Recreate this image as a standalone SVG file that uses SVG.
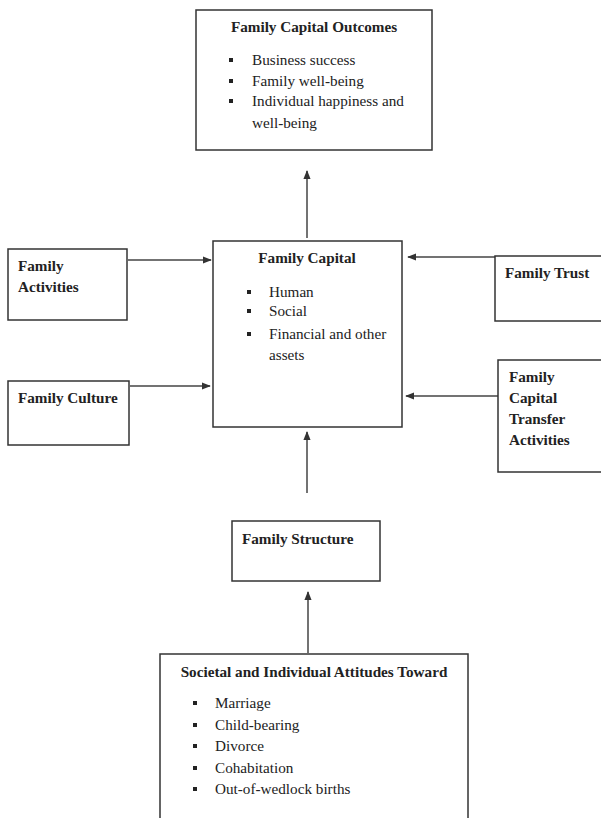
<svg xmlns="http://www.w3.org/2000/svg" width="601" height="818" viewBox="0 0 601 818">
<style>
.box{fill:#fff;stroke:#333;stroke-width:1.5}
.t{font-family:"Liberation Serif","Times New Roman",serif;font-size:15.2px;fill:#222}
.b{font-weight:bold}
.bul{fill:#222}
.c{stroke:#444;stroke-width:1.5;fill:none;marker-end:url(#ah)}
</style>
<defs>
<marker id="ah" viewBox="0 0 10 10" refX="9" refY="5" markerWidth="6" markerHeight="6" markerUnits="strokeWidth" orient="auto">
<path d="M0,1 L10,5 L0,9 z" fill="#333"/>
</marker>
</defs>
<rect width="601" height="818" fill="#fff"/>
<g id="connectors">
<line class="c" x1="307" y1="238" x2="307" y2="171"/>
<line class="c" x1="128" y1="260" x2="211" y2="260"/>
<line class="c" x1="130" y1="386" x2="210" y2="386"/>
<line class="c" x1="495" y1="257" x2="408" y2="257"/>
<line class="c" x1="498" y1="396" x2="406" y2="396"/>
<line class="c" x1="307" y1="493" x2="307" y2="432"/>
<line class="c" x1="308" y1="653" x2="308" y2="592"/>
</g>
<g id="outcomes">
<rect class="box" x="196" y="10" width="236" height="140"/>
<text class="t b" x="314" y="32" text-anchor="middle">Family Capital Outcomes</text>
<rect class="bul" x="229" y="58" width="4" height="4"/>
<rect class="bul" x="229" y="79" width="4" height="4"/>
<rect class="bul" x="229" y="99" width="4" height="4"/>
<text class="t" x="252" y="65">Business success</text>
<text class="t" x="252" y="86">Family well-being</text>
<text class="t" x="252" y="106">Individual happiness and</text>
<text class="t" x="252" y="128">well-being</text>
</g>
<g id="family-capital">
<rect class="box" x="213" y="241" width="189" height="186"/>
<text class="t b" x="307" y="263" text-anchor="middle">Family Capital</text>
<rect class="bul" x="247" y="290" width="4" height="4"/>
<rect class="bul" x="247" y="309" width="4" height="4"/>
<rect class="bul" x="247" y="332" width="4" height="4"/>
<text class="t" x="269" y="297">Human</text>
<text class="t" x="269" y="316">Social</text>
<text class="t" x="269" y="339">Financial and other</text>
<text class="t" x="269" y="360">assets</text>
</g>
<g id="family-activities">
<rect class="box" x="8" y="249" width="119" height="71"/>
<text class="t b" x="18" y="271">Family</text>
<text class="t b" x="18" y="292">Activities</text>
</g>
<g id="family-culture">
<rect class="box" x="8" y="381" width="121" height="64"/>
<text class="t b" x="18" y="403">Family Culture</text>
</g>
<g id="family-trust">
<rect class="box" x="495" y="256" width="110" height="65"/>
<text class="t b" x="505" y="278">Family Trust</text>
</g>
<g id="transfer">
<rect class="box" x="498" y="360" width="107" height="112"/>
<text class="t b" x="509" y="382">Family</text>
<text class="t b" x="509" y="403">Capital</text>
<text class="t b" x="509" y="424">Transfer</text>
<text class="t b" x="509" y="445">Activities</text>
</g>
<g id="family-structure">
<rect class="box" x="232" y="521" width="148" height="60"/>
<text class="t b" x="242" y="544">Family Structure</text>
</g>
<g id="attitudes">
<rect class="box" x="160" y="654" width="308" height="170"/>
<text class="t b" x="314" y="677" text-anchor="middle">Societal and Individual Attitudes Toward</text>
<rect class="bul" x="193" y="701" width="4" height="4"/>
<rect class="bul" x="193" y="723" width="4" height="4"/>
<rect class="bul" x="193" y="744" width="4" height="4"/>
<rect class="bul" x="193" y="766" width="4" height="4"/>
<rect class="bul" x="193" y="787" width="4" height="4"/>
<text class="t" x="215" y="708">Marriage</text>
<text class="t" x="215" y="730">Child-bearing</text>
<text class="t" x="215" y="751">Divorce</text>
<text class="t" x="215" y="773">Cohabitation</text>
<text class="t" x="215" y="794">Out-of-wedlock births</text>
</g>
</svg>
